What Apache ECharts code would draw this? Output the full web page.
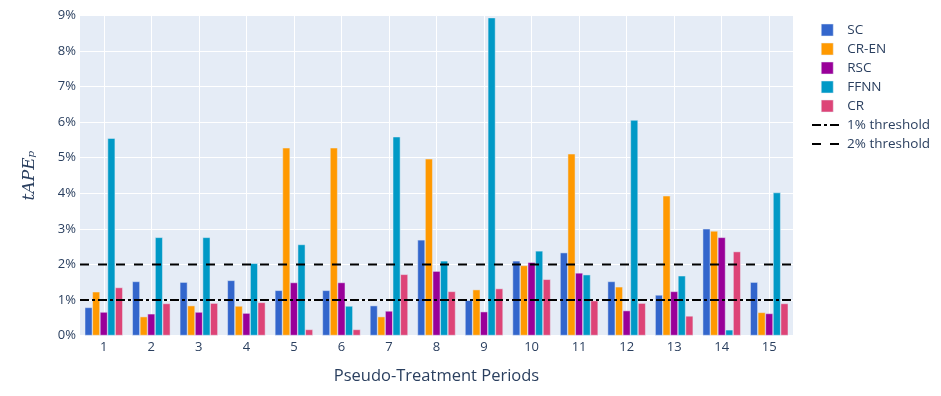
<!DOCTYPE html>
<html>
<head>
<meta charset="utf-8">
<script src="https://cdn.jsdelivr.net/npm/echarts@6/dist/echarts.min.js"></script>
<style>
  html, body { margin: 0; padding: 0; background: #fff; }
  #chart { width: 941px; height: 396px; }
</style>
</head>
<body>
<div id="chart"></div>
<script>
// pseudo-treatment periods
var periods = ['1', '2', '3', '4', '5', '6', '7', '8', '9', '10', '11', '12', '13', '14', '15'];

// tAPE_p values in percent
var scVals   = [0.79, 1.52, 1.50, 1.55, 1.27, 1.27, 0.84, 2.69, 0.99, 2.10, 2.33, 1.52, 1.14, 3.00, 1.50];
var crenVals = [1.23, 0.53, 0.84, 0.83, 5.28, 5.28, 0.53, 4.97, 1.29, 1.97, 5.11, 1.37, 3.93, 2.94, 0.65];
var rscVals  = [0.66, 0.61, 0.66, 0.63, 1.49, 1.49, 0.69, 1.81, 0.67, 2.06, 1.76, 0.70, 1.24, 2.76, 0.62];
var ffnnVals = [5.55, 2.76, 2.76, 2.03, 2.56, 0.83, 5.59, 2.10, 8.94, 2.38, 1.71, 6.06, 1.68, 0.16, 4.02];
var crVals   = [1.35, 0.90, 0.91, 0.93, 0.17, 0.17, 1.72, 1.24, 1.32, 1.58, 0.98, 0.91, 0.55, 2.36, 0.90];

var yTicks = [0, 1, 2, 3, 4, 5, 6, 7, 8, 9];
var thresholds = [1, 2];

var fontFam = '"Open Sans", "Noto Sans", sans-serif';
var txtColor = '#2a3f5f';

// legend icons for the two threshold lines (27px wide)
var dashDotIcon = 'path://M0,0h9v2h-9zM12,0h3v2h-3zM18,0h9v2h-9z';
var dashIcon = 'path://M0,0h9v2h-9zM18,0h9v2h-9z';

var chart = echarts.init(document.getElementById('chart'));

// 条形图 series
function barSeries(name, vals, color) {
  return {
    name: name,
    type: 'bar',
    data: vals,
    barGap: '0%',
    barCategoryGap: '20%',
    itemStyle: { color: color, borderColor: '#E5ECF6', borderWidth: 0.5 },
    z: 2
  };
}

// threshold line spans the whole plot, so it sits on a hidden 0..1 axis
function thresholdSeries(name, val, dash) {
  return {
    name: name,
    type: 'line',
    xAxisIndex: 1,
    data: [[0, val], [1, val]],
    symbol: 'none',
    lineStyle: { color: '#000', width: 2, type: dash },
    itemStyle: { color: '#000' },
    silent: true,
    z: 4
  };
}

var option = {
  animation: false,
  backgroundColor: '#fff',
  textStyle: { fontFamily: fontFam, color: txtColor },
  grid: { left: 80, right: 148, top: 15.5, bottom: 60.5, show: true, backgroundColor: '#E5ECF6', borderWidth: 0 },
  legend: [
    {
      data: ['SC', 'CR-EN', 'RSC', 'FFNN', 'CR'],
      orient: 'vertical',
      left: 821,
      top: 22,
      padding: 0,
      itemWidth: 12,
      itemHeight: 12,
      itemGap: 3,
      icon: 'rect',
      selectedMode: false,
      itemStyle: { borderColor: '#E5ECF6', borderWidth: 0.5 },
      textStyle: { fontFamily: fontFam, fontSize: 13.5, color: txtColor, lineHeight: 16, padding: [0, 0, 0, 9] }
    },
    {
      data: [
        { name: '1% threshold', icon: dashDotIcon },
        { name: '2% threshold', icon: dashIcon }
      ],
      orient: 'vertical',
      left: 812,
      top: 117,
      padding: 0,
      itemWidth: 27,
      itemHeight: 2,
      itemGap: 3,
      selectedMode: false,
      itemStyle: { color: '#000', borderWidth: 0 },
      lineStyle: { width: 0 },
      textStyle: { fontFamily: fontFam, fontSize: 13.5, color: txtColor, lineHeight: 16, padding: [0, 0, 0, 3] }
    }
  ],
  xAxis: [
    {
      type: 'category',
      data: periods,
      name: 'Pseudo-Treatment Periods',
      nameLocation: 'middle',
      nameGap: 32,
      nameTextStyle: { fontFamily: fontFam, fontSize: 16.5, color: txtColor },
      axisLine: { show: false },
      axisTick: { show: false, alignWithLabel: true },
      axisLabel: { fontFamily: fontFam, fontSize: 13, color: txtColor, margin: 5 },
      splitLine: { show: true, alignWithLabel: true, lineStyle: { color: '#fff', width: 1 } }
    },
    {
      type: 'value',
      min: 0,
      max: 1,
      show: false
    }
  ],
  yAxis: {
    type: 'value',
    min: yTicks[0],
    max: yTicks[yTicks.length - 1],
    interval: 1,
    name: 'tAPEₚ',
    nameLocation: 'middle',
    nameGap: 42,
    nameTextStyle: { fontFamily: '"DejaVu Serif", "Liberation Serif", serif', fontStyle: 'italic', fontSize: 17, color: txtColor },
    axisLine: { show: false },
    axisTick: { show: false },
    axisLabel: { fontFamily: fontFam, fontSize: 13, color: txtColor, margin: 4, formatter: '{value}%' },
    splitLine: { lineStyle: { color: '#fff', width: 1 } }
  },
  series: [
    barSeries('SC', scVals, '#3366CC'),
    barSeries('CR-EN', crenVals, '#FF9900'),
    barSeries('RSC', rscVals, '#990099'),
    barSeries('FFNN', ffnnVals, '#0099C6'),
    barSeries('CR', crVals, '#DD4477'),
    thresholdSeries('1% threshold', thresholds[0], [9, 3, 3, 3]),
    thresholdSeries('2% threshold', thresholds[1], [9, 9])
  ]
};

chart.setOption(option);
</script>
</body>
</html>
